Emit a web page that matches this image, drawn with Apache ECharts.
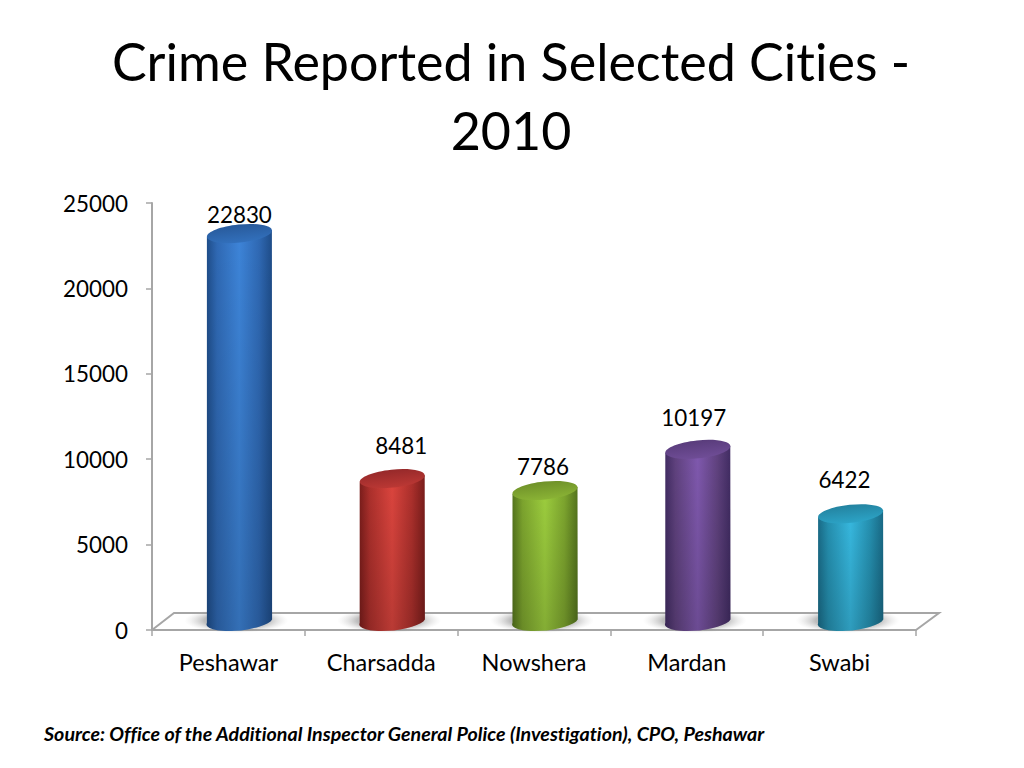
<!DOCTYPE html>
<html>
<head>
<meta charset="utf-8">
<style>html,body{margin:0;padding:0;background:#fff}#c{width:1024px;height:768px}#c text{font-variant-ligatures:none;font-feature-settings:"liga" 0,"clig" 0}</style>
<script src="https://cdn.jsdelivr.net/npm/echarts@6/dist/echarts.min.js"></script>
</head>
<body>
<div id="c"></div>
<script>
const cities = ['Peshawar', 'Charsadda', 'Nowshera', 'Mardan', 'Swabi'];
const crimes = [22830, 8481, 7786, 10197, 6422];
const chartTitle = 'Crime Reported in Selected Cities -\n2010';
const sourceNote = 'Source: Office of the Additional Inspector General Police (Investigation), CPO, Peshawar';

// Styling, separate from the data
const palette = [
  { edge: '#1e4c88', soft: '#2f69b4', mid: '#3d84d8', capTop: '#285a9b', cap: '#3270bc' },
  { edge: '#7a1d1b', soft: '#ad302c', mid: '#dc453e', capTop: '#96292a', cap: '#bb3834' },
  { edge: '#54741d', soft: '#7da52e', mid: '#9dce3e', capTop: '#6f9129', cap: '#8ab335' },
  { edge: '#412c63', soft: '#60427f', mid: '#8059af', capTop: '#593c7b', cap: '#6f4d96' },
  { edge: '#196a86', soft: '#2590b0', mid: '#37b9e0', capTop: '#2383a0', cap: '#2ca3c6' }
];
const labelNudge = [[0, -26], [9, -40], [-2, -31], [-4, -38], [-6, -41]];
const FONT = 'Lato, Carlito, "Open Sans", sans-serif';
const DEPTH_X = 22, DEPTH_Y = 17, BAR_SHIFT = 11, RX = 32.5, RY = 9, TILT = 3.5;

function bodyFill(c) {
  return new echarts.graphic.LinearGradient(0, 0, 1, 0, [
    { offset: 0, color: c.edge },
    { offset: 0.16, color: c.soft },
    { offset: 0.5, color: c.mid },
    { offset: 0.8, color: c.soft },
    { offset: 1, color: c.edge }
  ]);
}

function renderFloor(params, api) {
  const cs = params.coordSys;
  const x0 = cs.x, x1 = cs.x + cs.width, y = cs.y + cs.height;
  return {
    type: 'polyline',
    silent: true,
    shape: { points: [[x0, y], [x0 + DEPTH_X, y - DEPTH_Y], [x1 + DEPTH_X + 1, y - DEPTH_Y], [x1, y]] },
    style: { fill: null, stroke: '#a6a6a6', lineWidth: 2 }
  };
}

function renderBar(params, api) {
  const i = api.value(0);
  const top = api.coord([i, api.value(1)]);
  const base = api.coord([i, 0]);
  const c = palette[i];
  const cx = top[0] + BAR_SHIFT;
  const yTop = top[1] - 6.5;
  const yBase = base[1] - 10.5;
  const rot = -6;
  const bl = [cx - RX, yBase + TILT], br = [cx + RX, yBase - TILT];
  const tl = [cx - RX, yTop + TILT], tr = [cx + RX, yTop - TILT];
  const nudge = labelNudge[i];
  const bodyPath = `M${tl[0]} ${tl[1]} L${bl[0]} ${bl[1]} A${RX} ${RY} ${rot} 0 0 ${br[0]} ${br[1]} L${tr[0]} ${tr[1]} Z`;
  return {
    type: 'group',
    children: [
      {
        type: 'circle',
        silent: true,
        x: cx - 3,
        y: yBase + 1,
        scaleY: 0.24,
        shape: { cx: 0, cy: 0, r: 52 },
        style: {
          fill: new echarts.graphic.RadialGradient(0.5, 0.5, 0.5, [
            { offset: 0, color: 'rgba(80,80,80,0.6)' },
            { offset: 0.62, color: 'rgba(100,100,100,0.42)' },
            { offset: 1, color: 'rgba(190,190,190,0)' }
          ])
        }
      },
      { type: 'path', shape: { pathData: bodyPath }, style: { fill: bodyFill(c) } },
      {
        type: 'path',
        shape: { pathData: bodyPath },
        style: {
          fill: new echarts.graphic.LinearGradient(0, 0, 0, 1, [
            { offset: 0, color: 'rgba(0,0,0,0)' },
            { offset: 1, color: 'rgba(0,0,0,0.16)' }
          ])
        }
      },
      {
        type: 'ellipse',
        x: cx,
        y: yTop,
        rotation: 0.105,
        shape: { cx: 0, cy: 0, rx: RX + 0.2, ry: RY },
        style: {
          fill: new echarts.graphic.LinearGradient(0, 0, 0, 1, [
            { offset: 0, color: c.capTop },
            { offset: 1, color: c.cap }
          ])
        }
      },
      {
        type: 'text',
        silent: true,
        style: {
          text: String(api.value(1)),
          x: top[0] + BAR_SHIFT + nudge[0],
          y: top[1] + nudge[1],
          align: 'center',
          verticalAlign: 'middle',
          fill: '#000',
          font: '22.4px ' + FONT
        }
      }
    ]
  };
}

const chart = echarts.init(document.getElementById('c'), null, { renderer: 'svg' });
chart.setOption({
  animation: false,
  backgroundColor: '#fff',
  title: [
    {
      text: chartTitle,
      left: 511,
      top: 26,
      padding: 0,
      textAlign: 'center',
      textStyle: { fontFamily: FONT, fontSize: 52, fontWeight: 'normal', color: '#000', lineHeight: 69, align: 'center' }
    },
    {
      text: sourceNote,
      left: 44,
      top: 723,
      padding: 0,
      textStyle: { fontFamily: FONT, fontSize: 19.65, fontWeight: 'bold', fontStyle: 'italic', color: '#000' }
    }
  ],
  grid: { left: 152, right: 108, top: 203, bottom: 138 },
  xAxis: {
    type: 'category',
    data: cities,
    axisLine: { lineStyle: { color: '#a6a6a6', width: 2 } },
    axisTick: { show: true, length: 6, lineStyle: { color: '#a6a6a6', width: 1.5 } },
    axisLabel: { color: '#000', fontFamily: FONT, fontSize: 23.5, margin: 20 }
  },
  yAxis: {
    type: 'value',
    min: 0,
    max: 25000,
    interval: 5000,
    splitLine: { show: false },
    axisLine: { show: true, lineStyle: { color: '#a6a6a6', width: 2 } },
    axisTick: { show: true, length: 6, lineStyle: { color: '#a6a6a6', width: 1.5 } },
    axisLabel: { color: '#000', fontFamily: FONT, fontSize: 22.4, margin: 24, padding: [3, 0, 0, 0], formatter: v => String(v) }
  },
  series: [
    {
      type: 'custom',
      renderItem: renderFloor,
      data: [[0, 0]],
      encode: { x: 0, y: 1 },
      z: 1,
      silent: true
    },
    {
      type: 'custom',
      renderItem: renderBar,
      data: crimes.map((v, i) => [i, v]),
      encode: { x: 0, y: 1 },
      clip: false,
      z: 3
    }
  ]
});
</script>
</body>
</html>
